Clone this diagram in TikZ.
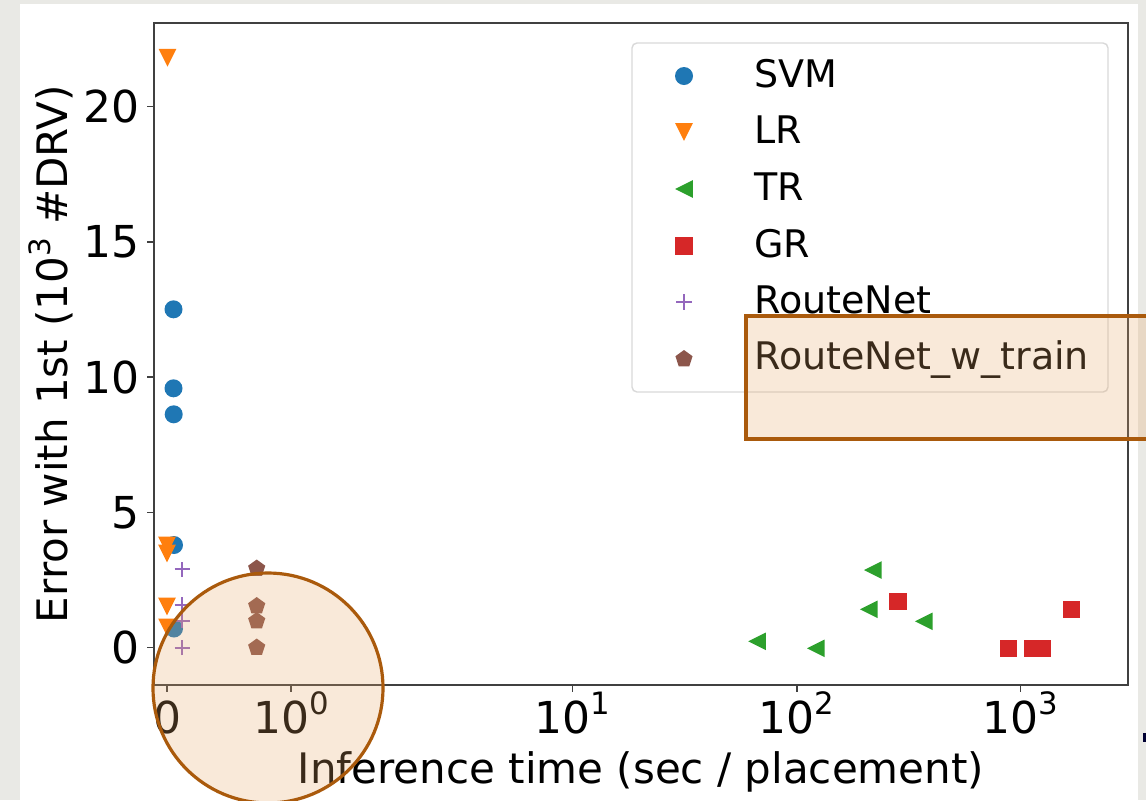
\documentclass[tikz,border=0pt]{standalone}
\usepackage{graphicx}
\usepackage{fontspec}
\setmainfont{DejaVu Sans}

% marker colours (tab10)
\definecolor{cSVM}{HTML}{1F77B4}
\definecolor{cLR}{HTML}{FF7F0E}
\definecolor{cTR}{HTML}{2CA02C}
\definecolor{cGR}{HTML}{D62728}
\definecolor{cRN}{HTML}{9467BD}
\definecolor{cRNW}{HTML}{8C564B}
\definecolor{pagegray}{RGB}{233,233,229}
\definecolor{hlline}{RGB}{170,90,12}
\definecolor{hlfill}{RGB}{232,168,104}

% power-of-ten exponent
\newcommand\pw[1]{\raisebox{0.42em}{\scalebox{0.7}{#1}}}

\tikzset{
  spine/.style={draw=black!75, line width=0.8pt},
  ticklab/.style={inner sep=0pt, font=\fontsize{22pt}{26pt}\selectfont},
  axlab/.style={inner sep=0pt, font=\fontsize{21pt}{25pt}\selectfont},
  leglab/.style={inner sep=0pt, anchor=base west, font=\fontsize{19pt}{23pt}\selectfont},
  legframe/.style={draw=black!15, line width=0.7pt, fill=white, fill opacity=0.8, rounded corners=2.5pt},
  hl/.style={draw=hlline, line width=1.6pt, fill=hlfill, fill opacity=0.25},
  pics/svm/.style={code={\fill[cSVM] (0,0) circle[radius=4.5pt];}},
  pics/lr/.style={code={\fill[cLR] (-4.4pt,4.4pt) -- (4.4pt,4.4pt) -- (0pt,-4.4pt) -- cycle;}},
  pics/tr/.style={code={\fill[cTR] (-4.4pt,0pt) -- (4.4pt,4.4pt) -- (4.4pt,-4.4pt) -- cycle;}},
  pics/gr/.style={code={\fill[cGR] (-4.3pt,-4.3pt) rectangle (4.3pt,4.3pt);}},
  pics/rn/.style={code={\draw[cRN, line width=1pt] (-3.8pt,0pt) -- (3.8pt,0pt) (0pt,-3.8pt) -- (0pt,3.8pt);}},
  pics/rnw/.style={code={\fill[cRNW] (90:4.5pt) -- (162:4.5pt) -- (234:4.5pt) -- (306:4.5pt) -- (18:4.5pt) -- cycle;}},
}

\begin{document}
\begin{tikzpicture}[x=0.5pt, y=-0.5pt]
\useasboundingbox (0,0) rectangle (1146,800);
% page and figure background
\fill[pagegray] (0,0) rectangle (1146,800);
\fill[white] (20,4) rectangle (1138,800);

% axes frame
\draw[spine] (154,23) rectangle (1128,685);

% y ticks
\foreach \v/\py in {0/647.5, 5/512.3, 10/377, 15/241.7, 20/106.4} {
  \draw[spine] (154,\py) -- (147,\py);
  \node[ticklab, anchor=east] (yt\v) at (140,\py) {\v};
}

% x ticks (symlog axis)
\foreach \n/\px in {a/167, b/291, c/572.6, d/796.7, e/1020.6} {
  \draw[spine] (\px,685) -- (\px,692);
}
\node[ticklab, anchor=base] (xt0) at (167,733) {0};
\node[ticklab, anchor=base] (xt1) at (291,733) {10\pw{0}};
\node[ticklab, anchor=base] (xt2) at (572.6,733) {10\pw{1}};
\node[ticklab, anchor=base] (xt3) at (796.7,733) {10\pw{2}};
\node[ticklab, anchor=base] (xt4) at (1020.6,733) {10\pw{3}};

% axis labels
\node[axlab, anchor=base] (xlab) at (641,783) {Inference time (sec / placement)};
\node[axlab, anchor=base, rotate=90] (ylab) at (68,354) {Error with 1st (10\pw{3} \#DRV)};

% data
\foreach \p in {(173.5,309.3),(173.5,388.3),(173.7,414.3),(174,545),(174,628.5)}
  \pic at \p {svm};
\foreach \p in {(167.5,57.7),(167,545.5),(167,553.5),(167,606.5),(167,627.3)}
  \pic at \p {lr};
\foreach \p in {(872.8,570),(868.7,609.3),(923.7,621.3),(757,641.3),(815.8,648.3)}
  \pic at \p {tr};
\foreach \p in {(898,601.7),(1071.7,609.3),(1008.3,648.3),(1032.3,648.3),(1042.3,648.3)}
  \pic at \p {gr};
\foreach \p in {(182.3,569.3),(182.3,605),(182.3,620.5),(182.3,647.5)}
  \pic at \p {rn};
\foreach \p in {(256.7,568.5),(256.7,606),(256.7,621),(256.7,647.5)}
  \pic at \p {rnw};

% legend
\path[legframe] (632,43) rectangle (1108,392);
\pic at (684,76) {svm};
\pic at (684,132) {lr};
\pic at (684,189) {tr};
\pic at (684,246) {gr};
\pic at (684,302) {rn};
\pic at (684,359) {rnw};
\node[leglab] (lSVM) at (754,87) {SVM};
\node[leglab] (lLR) at (754,143) {LR};
\node[leglab] (lTR) at (754,200) {TR};
\node[leglab] (lGR) at (754,257) {GR};
\node[leglab] (lRN) at (754,313) {RouteNet};
\node[leglab] (lRNW) at (754,369.5) {RouteNet\_w\_train};

% highlights
\path[hl] (746,316) rectangle (1170,439);
\path[hl] (268,688) circle[radius=57.5pt];

% stray mark at the right edge
\fill[black!80!blue] (1143,733) rectangle (1146,742);
\end{tikzpicture}
\end{document}
